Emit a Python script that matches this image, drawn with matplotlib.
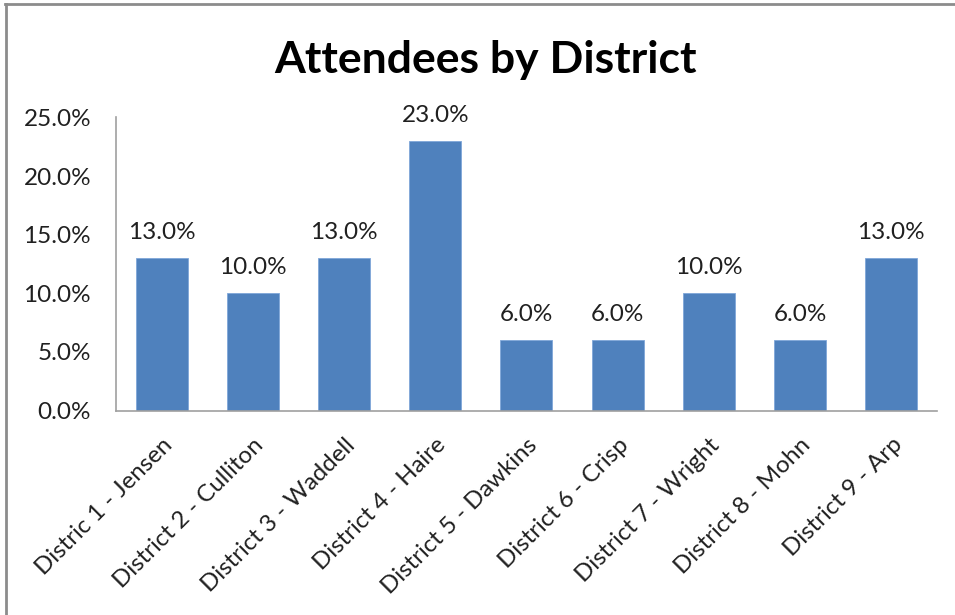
import matplotlib
matplotlib.use("Agg")
import matplotlib.pyplot as plt
from matplotlib.lines import Line2D
from matplotlib.ticker import FuncFormatter

categories = ["Distric 1 - Jensen", "District 2 - Culliton", "District 3 - Waddell",
              "District 4 - Haire", "District 5 - Dawkins", "District 6 - Crisp",
              "District 7 - Wright", "District 8 - Mohn", "District 9 - Arp"]
values = [13.0, 10.0, 13.0, 23.0, 6.0, 6.0, 10.0, 6.0, 13.0]
yticks = [0, 5, 10, 15, 20, 25]

plt.rcParams['font.family'] = ['Lato', 'DejaVu Sans']

fig = plt.figure(figsize=(9.55, 6.15), dpi=100)
ax = fig.add_axes([0.1215, 0.3325, 0.8595, 0.4765])

x = list(range(len(categories)))
ax.bar(x, values, width=0.57, color='#4F81BD', edgecolor='#7FA7D9', linewidth=0.6, zorder=2)
for xi, v in zip(x, values):
    ax.annotate(f"{v:.1f}%", (xi, v), xytext=(0, 11), textcoords='offset points',
                ha='center', va='bottom', fontsize=17.5, color='#202020')

ax.set_xlim(-0.5, len(categories) - 0.5)
ax.set_ylim(0, 25)
ax.set_yticks(yticks)
ax.yaxis.set_major_formatter(FuncFormatter(lambda v, p: f"{v:.1f}%"))
ax.set_xticks(x)
ax.set_xticklabels(categories, rotation=45, ha='right', va='top', rotation_mode='anchor',
                   fontsize=17.3, color='#202020')
ax.tick_params(axis='both', length=0)
ax.tick_params(axis='y', labelsize=17.5, labelcolor='#202020', pad=18)
ax.tick_params(axis='x', pad=17)
for s in ['top', 'right']:
    ax.spines[s].set_visible(False)
for s in ['left', 'bottom']:
    ax.spines[s].set_color('#A0A0A0')
    ax.spines[s].set_linewidth(1.2)

fig.text(0.508, 0.902, "Attendees by District", ha='center', va='center',
         fontsize=32, fontweight='bold', color='black')

# outer chart border (top and left visible)
fig.add_artist(Line2D([0.005, 1.0], [0.9935, 0.9935], color='#8C8C8C', lw=2, transform=fig.transFigure))
fig.add_artist(Line2D([0.0058, 0.0058], [0.0, 0.9935], color='#8C8C8C', lw=2, transform=fig.transFigure))

fig.savefig("out.png", dpi=100)
